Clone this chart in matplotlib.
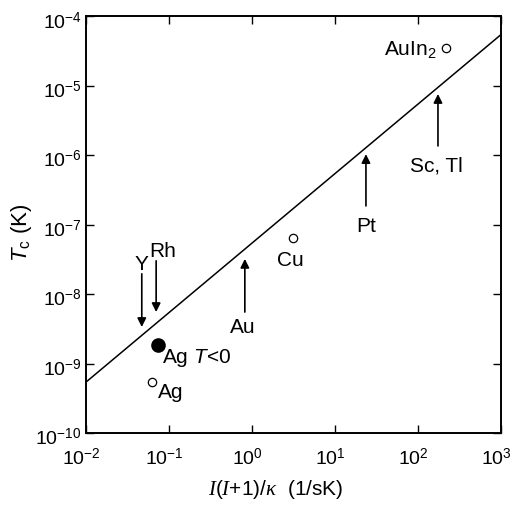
import math
import matplotlib
matplotlib.use("Agg")
import matplotlib.pyplot as plt
from matplotlib.ticker import LogLocator, FuncFormatter
from matplotlib.transforms import ScaledTranslation

plt.rcParams["font.family"] = ["Liberation Sans", "DejaVu Sans"]
plt.rcParams["mathtext.fontset"] = "custom"
plt.rcParams["mathtext.rm"] = "Liberation Sans"
plt.rcParams["mathtext.it"] = "Liberation Serif:italic"
plt.rcParams["mathtext.sf"] = "Liberation Sans:italic"

# Fitted relation Tc proportional to I(I+1)/kappa
fit_x = [1e-2, 1e3]
fit_y = [5.4e-10, 5.4e-5]

# Measured ordering temperatures (open circles)
open_names = ["AuIn$_2$", "Cu", "Ag"]
open_x = [218.0, 3.1, 0.062]
open_y = [3.5e-5, 6.5e-8, 5.4e-10]

# Negative-temperature Ag point (filled)
neg_name = "Ag $\\mathsf{T}$<0"
neg_x = [0.0736]
neg_y = [1.85e-9]

# Predicted values: arrows pointing down (upper bounds)
down_names = ["Y", "Rh"]
down_x = [0.047, 0.070]
down_from = [1.95e-8, 3.0e-8]
down_to = [3.35e-9, 5.5e-9]

# Predicted values: arrows pointing up (lower bounds)
up_names = ["Au", "Pt", "Sc, Tl"]
up_x = [0.82, 23.6, 174.0]
up_from = [5.5e-9, 1.85e-7, 1.35e-6]
up_to = [3.2e-8, 1.03e-6, 7.55e-6]

fig = plt.figure(figsize=(5.12, 5.06), dpi=100)
ax = fig.add_axes([86 / 512, 72 / 506, 415 / 512, 417 / 506])
ax.set_xscale("log")
ax.set_yscale("log")
ax.set_xlim(1e-2, 1e3)
ax.set_ylim(1e-10, 1e-4)

ax.plot(fit_x, fit_y, color="black", lw=1.1)

fs = 15
ax.plot(open_x, open_y, "o", mfc="white", mec="black", ms=6, mew=0.9, ls="none")
ax.plot(neg_x, neg_y, "o", color="black", ms=9.5, ls="none")

# point labels (offsets in points from each marker, baseline-aligned)
open_offsets = [(-7, -4.5), (-1.5, -20), (4.3, -11)]
open_ha = ["right", "center", "left"]
for name, x, y, off, ha in zip(open_names, open_x, open_y, open_offsets, open_ha):
    ax.annotate(name, (x, y), xytext=off, textcoords="offset points",
                ha=ha, va="baseline", fontsize=fs)
ax.annotate(neg_name, (neg_x[0], neg_y[0]), xytext=(3, -12.5), textcoords="offset points",
            ha="left", va="baseline", fontsize=fs)

arrow_kw = dict(arrowstyle="-|>", color="black", lw=1.2, mutation_scale=13,
                shrinkA=0, shrinkB=0)
for x, y0, y1 in zip(down_x, down_from, down_to):
    ax.annotate("", xy=(x, y1), xytext=(x, y0), arrowprops=arrow_kw)
for x, y0, y1 in zip(up_x, up_from, up_to):
    ax.annotate("", xy=(x, y1), xytext=(x, y0), arrowprops=arrow_kw)

down_offsets = [(0, 3.6), (5, 3.6)]
for name, x, y0, off in zip(down_names, down_x, down_from, down_offsets):
    ax.annotate(name, (x, y0), xytext=off, textcoords="offset points",
                ha="center", va="baseline", fontsize=fs)
up_offsets = [(-1.5, -14.4), (0, -18), (-1.5, -18)]
for name, x, y0, off in zip(up_names, up_x, up_from, up_offsets):
    ax.annotate(name, (x, y0), xytext=off, textcoords="offset points",
                ha="center", va="baseline", fontsize=fs)

ax.xaxis.set_major_locator(LogLocator(base=10, numticks=10))
ax.yaxis.set_major_locator(LogLocator(base=10, numticks=10))
ax.xaxis.set_minor_locator(plt.NullLocator())
ax.yaxis.set_minor_locator(plt.NullLocator())
fmt = FuncFormatter(lambda v, p: "$10^{%d}$" % round(math.log10(v)))
ax.xaxis.set_major_formatter(fmt)
ax.yaxis.set_major_formatter(fmt)
ax.tick_params(which="major", direction="in", length=6, width=1.0,
               top=True, right=True, labelsize=14)
ax.tick_params(axis="x", pad=10)
ax.tick_params(axis="y", pad=3)
for s in ax.spines.values():
    s.set_linewidth(1.4)

fig.canvas.draw()
xshift = ScaledTranslation(-5 / 100, 0, fig.dpi_scale_trans)
for lab in ax.get_xticklabels():
    lab.set_transform(lab.get_transform() + xshift)
yshift = ScaledTranslation(0, -3 / 100, fig.dpi_scale_trans)
for lab in ax.get_yticklabels():
    lab.set_transform(lab.get_transform() + yshift)

fig.text(276 / 512, 1 - 490 / 506, r"$I$($I$+1)/$\kappa$  (1/sK)", ha="center",
         va="center", fontsize=fs)
fig.text(22 / 512, 1 - 233 / 506, r"$\mathsf{T}_\mathrm{c}$ (K)", ha="center",
         va="center", rotation=90, fontsize=16)

fig.savefig("out.png", dpi=100)
